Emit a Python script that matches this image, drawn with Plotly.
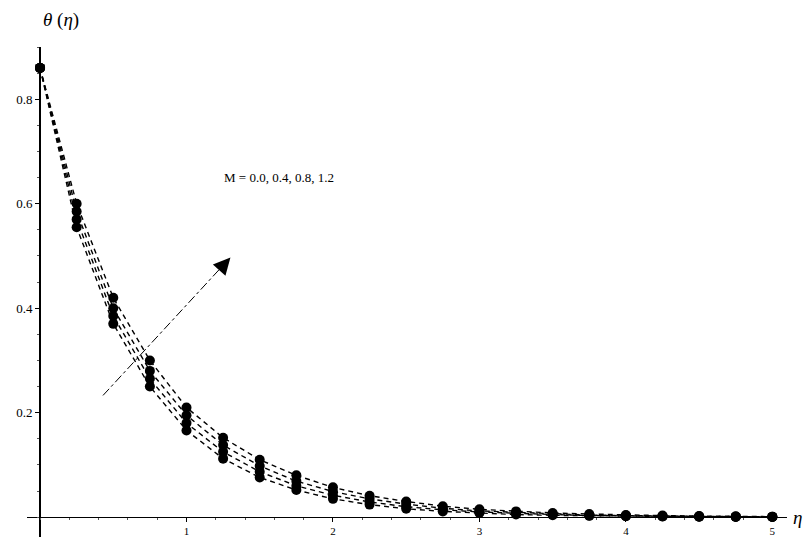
import plotly.graph_objects as go

eta = [0, 0.25, 0.5, 0.75, 1.0, 1.25, 1.5, 1.75, 2.0, 2.25, 2.5, 2.75, 3.0,
       3.25, 3.5, 3.75, 4.0, 4.25, 4.5, 4.75, 5.0]
theta_M00 = [0.86, 0.555, 0.37, 0.25, 0.166, 0.112, 0.076, 0.052, 0.035, 0.024, 0.016,
             0.011, 0.008, 0.005, 0.0035, 0.0025, 0.0017, 0.0012, 0.0008, 0.0005, 0.0004]
theta_M04 = [0.86, 0.57, 0.385, 0.265, 0.18, 0.125, 0.087, 0.060, 0.042, 0.029, 0.020,
             0.014, 0.010, 0.007, 0.005, 0.003, 0.002, 0.0015, 0.001, 0.0007, 0.0005]
theta_M08 = [0.86, 0.585, 0.40, 0.28, 0.195, 0.138, 0.098, 0.069, 0.049, 0.035, 0.025,
             0.017, 0.012, 0.009, 0.006, 0.004, 0.003, 0.002, 0.0015, 0.001, 0.0007]
theta_M12 = [0.86, 0.60, 0.42, 0.30, 0.21, 0.152, 0.110, 0.080, 0.057, 0.041, 0.030,
             0.021, 0.015, 0.011, 0.008, 0.006, 0.004, 0.003, 0.002, 0.0015, 0.001]
series = {"M = 0.0": theta_M00, "M = 0.4": theta_M04, "M = 0.8": theta_M08, "M = 1.2": theta_M12}

x_ticks = [1, 2, 3, 4, 5]
y_ticks = [0.2, 0.4, 0.6, 0.8]
x_range = [-0.089, 5.10]
y_range = [-0.038, 0.90]

arrow_tail = (0.43, 0.233)
arrow_head = (1.30, 0.497)
label_text = "M = 0.0, 0.4, 0.8, 1.2"

fig = go.Figure()
for name, vals in series.items():
    fig.add_trace(go.Scatter(
        x=eta, y=vals, mode="lines+markers", name=name,
        line=dict(color="black", width=1.4, dash="5px,4px"),
        marker=dict(color="black", size=10, symbol="circle"),
        showlegend=False,
    ))

serif = "Liberation Serif"
x_pos = (0 - y_range[0]) / (y_range[1] - y_range[0])
y_pos = (0 - x_range[0]) / (x_range[1] - x_range[0])

fig.update_layout(
    width=811, height=542,
    margin=dict(l=27, r=24, t=47, b=5),
    paper_bgcolor="white", plot_bgcolor="white",
    font=dict(family=serif, color="black"),
    xaxis=dict(range=x_range, anchor="free", position=x_pos, showline=True,
               linecolor="black", linewidth=1.1, showgrid=False, zeroline=False,
               tickvals=x_ticks, ticktext=[str(v) for v in x_ticks],
               ticks="outside", ticklen=4, tickcolor="black",
               tickfont=dict(family=serif, size=11, color="black"),
               minor=dict(dtick=0.2, ticks="outside", ticklen=2, tickcolor="#555")),
    yaxis=dict(range=y_range, anchor="free", position=y_pos, showline=True,
               linecolor="black", linewidth=1.8, showgrid=False, zeroline=False,
               tickvals=y_ticks, ticktext=[f"{v:.1f}" for v in y_ticks],
               ticks="outside", ticklen=4, tickcolor="black",
               tickfont=dict(family=serif, size=13, color="black"),
               minor=dict(dtick=0.05, ticks="outside", ticklen=2, tickcolor="#555")),
)

# dashed arrow shaft
fig.add_shape(type="line", xref="x", yref="y",
              x0=arrow_tail[0], y0=arrow_tail[1],
              x1=arrow_head[0] - 0.06, y1=arrow_head[1] - 0.018,
              line=dict(color="black", width=1, dash="dashdot"))
# arrow head
fig.add_annotation(x=arrow_head[0], y=arrow_head[1], xref="x", yref="y",
                   ax=arrow_head[0] - 0.08, ay=arrow_head[1] - 0.025,
                   axref="x", ayref="y", text="", showarrow=True,
                   arrowhead=2, arrowsize=2.6, arrowwidth=1.3, arrowcolor="black",
                   standoff=0)
fig.add_annotation(x=1.24, y=0.65, xref="x", yref="y", text=label_text,
                   showarrow=False, xanchor="left", yanchor="middle",
                   font=dict(family=serif, size=13, color="black"))
# axis labels
fig.add_annotation(x=0.019, y=1.055, xref="paper", yref="paper",
                   text="<i>θ</i> (<i>η</i>)", showarrow=False,
                   xanchor="left", yanchor="middle",
                   font=dict(family=serif, size=19, color="black"))
fig.add_annotation(x=1.005, y=x_pos, xref="paper", yref="paper",
                   text="<i>η</i>", showarrow=False,
                   xanchor="left", yanchor="middle",
                   font=dict(family=serif, size=19, color="black"))

fig.write_html("out.html")
